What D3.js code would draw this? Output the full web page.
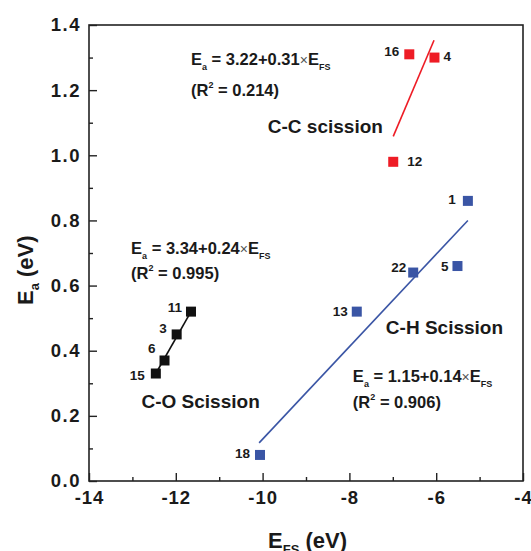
<!DOCTYPE html>
<html>
<head>
<meta charset="utf-8">
<script src="https://cdn.jsdelivr.net/npm/d3@7"></script>
<style>
body{margin:0;background:#fff;}
.chart{width:531px;height:551px;}
.chart text{font-family:"Liberation Sans", Arial, sans-serif;font-weight:bold;fill:#1a1a1a;}
</style>
</head>
<body>
<div class="chart"></div>
<script>
// axis ticks
const x_ticks = [-14, -12, -10, -8, -6, -4];
const x_minor = [-13, -11, -9, -7, -5];
const y_ticks = [0.0, 0.2, 0.4, 0.6, 0.8, 1.0, 1.2, 1.4];
const y_minor = [0.1, 0.3, 0.5, 0.7, 0.9, 1.1, 1.3];

// C-O scission (black)
const co_ids = ['15', '6', '3', '11'];
const co_efs = [-12.46, -12.26, -11.98, -11.65];
const co_ea = [0.33, 0.37, 0.45, 0.52];
const co_fit_efs = [-12.46, -11.65];
const co_fit_ea = [0.33, 0.52];

// C-C scission (red)
const cc_ids = ['16', '4', '12'];
const cc_efs = [-6.62, -6.04, -6.99];
const cc_ea = [1.31, 1.30, 0.98];
const cc_fit_efs = [-6.99, -6.05];
const cc_fit_ea = [1.058, 1.353];

// C-H scission (blue)
const ch_ids = ['1', '5', '22', '13', '18'];
const ch_efs = [-5.27, -5.51, -6.53, -7.83, -10.06];
const ch_ea = [0.86, 0.66, 0.64, 0.52, 0.08];
const ch_fit_efs = [-10.08, -5.27];
const ch_fit_ea = [0.117, 0.80];

// texts
const group_names = ['C-O Scission', 'C-C scission', 'C-H Scission'];
const fit_eqs = ['3.34+0.24', '3.22+0.31', '1.15+0.14'];
const fit_r2 = ['0.995', '0.214', '0.906'];

const colors = ['#111111', '#ee1c25', '#3a55a5'];

// label offsets [dx, dy, anchor] from the marker centre
const label_offsets = {
	'15': [-11, 6, 'end'], '6': [-9, -7, 'end'], '3': [-10, -1, 'end'], '11': [-9, 0, 'end'],
	'16': [-10, 2, 'end'], '4': [9, 3, 'start'], '12': [14, 4, 'start'],
	'1': [-12, 3, 'end'], '5': [-9, 5, 'end'], '22': [-7, -1, 'end'], '13': [-9, 4, 'end'], '18': [-10, 3, 'end']
};
// [name x, name y, eq x, eq y, r2 y] in data units
const text_places = [
	[-12.79, 0.224, -13.03, 0.696, 0.620],
	[-9.88, 1.067, -11.65, 1.278, 1.181],
	[-7.16, 0.451, -7.92, 0.305, 0.224]
];

class Scatter{
	constructor({el}){
		this._el = el;
		this.width = 531;
		this.height = 551;
		this.margin = {l:89, t:25, r:8, b:70};
		this.x = d3.scaleLinear().domain([-14, -4]).range([this.margin.l, this.width - this.margin.r]);
		this.y = d3.scaleLinear().domain([0, 1.4]).range([this.height - this.margin.b, this.margin.t]);
		this.groups = [
			{ids:co_ids, efs:co_efs, ea:co_ea, fx:co_fit_efs, fy:co_fit_ea},
			{ids:cc_ids, efs:cc_efs, ea:cc_ea, fx:cc_fit_efs, fy:cc_fit_ea},
			{ids:ch_ids, efs:ch_efs, ea:ch_ea, fx:ch_fit_efs, fy:ch_fit_ea}
		];
	}

	_makeSVG(){
		this.svg = d3.select(this._el).append('svg')
			.attr('width', this.width)
			.attr('height', this.height);
	}

	_makeAxes(){
		const bottom = this.height - this.margin.b;
		const left = this.margin.l;
		// plain hyphen like the original figure
		const xAxis = this.svg.append('g')
			.attr('transform', `translate(0,${bottom})`)
			.call(d3.axisBottom(this.x).tickValues(x_ticks).tickSize(-8).tickPadding(10).tickFormat(d => String(d)));
		xAxis.selectAll('text').attr('font-size', '18.5px').attr('letter-spacing', '1px').attr('dy', '0.72em');
		this.svg.append('g')
			.attr('transform', `translate(0,${bottom})`)
			.call(d3.axisBottom(this.x).tickValues(x_minor).tickSize(-4).tickFormat(''));

		const yAxis = this.svg.append('g')
			.attr('transform', `translate(${left},0)`)
			.call(d3.axisLeft(this.y).tickValues(y_ticks).tickSize(-8).tickPadding(8).tickFormat(d => d.toFixed(1)));
		yAxis.selectAll('text').attr('font-size', '18.5px').attr('letter-spacing', '1.5px');
		this.svg.append('g')
			.attr('transform', `translate(${left},0)`)
			.call(d3.axisLeft(this.y).tickValues(y_minor).tickSize(-4).tickFormat(''));

		this.svg.selectAll('.domain').remove();
		this.svg.selectAll('.tick line').attr('stroke', '#222').attr('stroke-width', 1.4);

		this.svg.append('rect')
			.attr('x', this.x(-14)).attr('y', this.y(1.4))
			.attr('width', this.x(-4) - this.x(-14))
			.attr('height', this.y(0) - this.y(1.4))
			.attr('fill', 'none').attr('stroke', '#222').attr('stroke-width', 1.6);

		// axis titles
		const xt = this.svg.append('text')
			.attr('x', 268).attr('y', 548).attr('font-size', '22px');
		xt.append('tspan').text('E');
		xt.append('tspan').attr('font-size', '13px').attr('dy', 6).text('FS');
		xt.append('tspan').attr('dy', -6).text(' (eV)');

		const yt = this.svg.append('text')
			.attr('transform', 'translate(33,305) rotate(-90)').attr('font-size', '22px');
		yt.append('tspan').text('E');
		yt.append('tspan').attr('font-size', '13px').attr('dy', 6).text('a');
		yt.append('tspan').attr('dy', -6).text(' (eV)');
	}

	_makeFits(){
		const line = d3.line().x(d => this.x(d[0])).y(d => this.y(d[1]));
		this.svg.append('g').selectAll('path')
			.data(this.groups)
			.join('path')
			.attr('d', g => line(d3.zip(g.fx, g.fy)))
			.attr('fill', 'none')
			.attr('stroke', (g, i) => colors[i])
			.attr('stroke-width', 1.6);
	}

	_makePoints(){
		const pts = [];
		this.groups.forEach((g, gi) => {
			g.ids.forEach((id, i) => pts.push({id:id, efs:g.efs[i], ea:g.ea[i], gi:gi}));
		});
		const size = 10;
		this.svg.append('g').selectAll('rect')
			.data(pts)
			.join('rect')
			.attr('x', d => this.x(d.efs) - size / 2)
			.attr('y', d => this.y(d.ea) - size / 2)
			.attr('width', size).attr('height', size)
			.attr('fill', d => colors[d.gi]);

		this.svg.append('g').selectAll('text')
			.data(pts)
			.join('text')
			.attr('x', d => this.x(d.efs) + label_offsets[d.id][0])
			.attr('y', d => this.y(d.ea) + label_offsets[d.id][1])
			.attr('text-anchor', d => label_offsets[d.id][2])
			.attr('font-size', '13.5px')
			.text(d => d.id);
	}

	_makeNotes(){
		text_places.forEach((p, i) => {
			this.svg.append('text')
				.attr('x', this.x(p[0])).attr('y', this.y(p[1]))
				.attr('font-size', '19px')
				.text(group_names[i]);

			const eq = this.svg.append('text')
				.attr('x', this.x(p[2])).attr('y', this.y(p[3]))
				.attr('font-size', '16.5px');
			eq.append('tspan').text('E');
			eq.append('tspan').attr('font-size', '9px').attr('dy', 5).text('a');
			eq.append('tspan').attr('dy', -5).text(` = ${fit_eqs[i]}`);
			eq.append('tspan').attr('font-weight', 'normal').attr('font-size', '14px').attr('fill', '#555').text('\u00d7');
			eq.append('tspan').text('E');
			eq.append('tspan').attr('font-size', '9px').attr('dy', 5).text('FS');

			const r2 = this.svg.append('text')
				.attr('x', this.x(p[2])).attr('y', this.y(p[4]))
				.attr('font-size', '16.5px');
			r2.append('tspan').text('(R');
			r2.append('tspan').attr('font-size', '9px').attr('dy', -8).text('2');
			r2.append('tspan').attr('dy', 8).text(` = ${fit_r2[i]})`);
		});
	}

	render(){
		if(this.svg){
			this.svg.remove();
		}
		this._makeSVG();
		this._makeAxes();
		this._makeFits();
		this._makePoints();
		this._makeNotes();
	}
}

const chart = new Scatter({
	el:document.querySelector('.chart')
});

chart.render();
</script>
</body>
</html>
